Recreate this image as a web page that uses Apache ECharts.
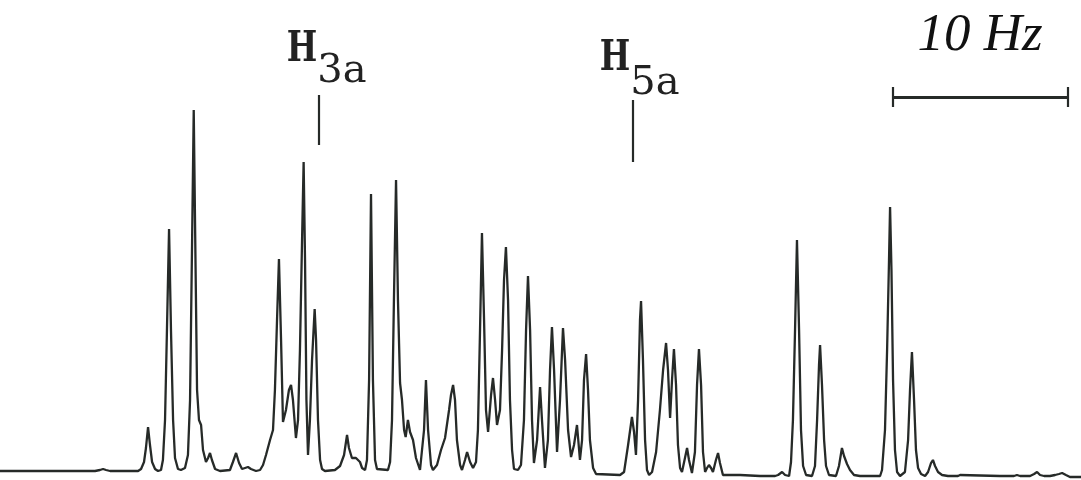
<!DOCTYPE html>
<html>
<head>
<meta charset="utf-8">
<script src="https://cdn.jsdelivr.net/npm/echarts@6/dist/echarts.min.js"></script>
<style>
  html, body { margin: 0; padding: 0; background: #fff; }
  #chart { width: 1081px; height: 480px; }
</style>
</head>
<body>
<div id="chart"></div>
<script>
// spectrum trace: [frequency (Hz from left edge), intensity]
const baseLeft = [
  [0.00,0],[5.43,0],[5.71,1],[5.89,2],[6.06,1],[6.29,0],[7.89,0],[8.06,2],[8.23,9],[8.34,23],[8.46,44],
  [8.57,26],[8.69,9],[8.86,2],[9.03,0],[9.20,1],[9.31,11],[9.43,51],[9.54,141],[9.66,242],[9.77,141],
  [9.89,51],[10.00,13],[10.17,2],[10.34,1],[10.57,3],[10.74,16],[10.86,71],[10.97,221],[11.07,361],
  [11.17,211],[11.26,81],[11.37,51],[11.49,46],[11.60,21],[11.77,9],[11.89,13],[12.00,18],[12.11,11],
  [12.29,2],[12.57,0],[13.14,1],[13.31,9],[13.49,18],[13.66,8],[13.83,2],[14.00,3],[14.17,4],[14.34,2],[14.63,0]
];
const h3aGroup = [
  [14.86,1],[15.03,6],[15.20,16],[15.43,31],[15.60,41],[15.71,81],[15.83,151],[15.94,212],[16.06,131],
  [16.17,49],[16.34,61],[16.51,81],[16.63,86],[16.74,71],[16.91,33],[17.03,51],[17.14,121],[17.26,231],
  [17.35,309],[17.43,211],[17.51,71],[17.60,16],[17.71,51],[17.83,111],[17.98,162],[18.06,131],[18.17,51],
  [18.29,11],[18.40,2],[18.57,0]
];
const midGroup = [
  [19.14,1],[19.43,5],[19.66,16],[19.83,36],[19.94,23],[20.11,13],[20.34,13],[20.57,9],[20.69,3],[20.86,1],
  [20.97,11],[21.09,91],[21.20,277],[21.31,91],[21.43,11],[21.54,2],[22.17,1],[22.29,9],[22.40,51],
  [22.51,171],[22.63,291],[22.74,171],[22.86,88],[22.97,71],[23.09,41],[23.18,34],[23.31,51],[23.43,39],
  [23.60,31],[23.77,13],[24.00,1],[24.11,3],[24.23,41],[24.34,91],[24.46,41],[24.63,6],[24.74,1],[24.97,6],
  [25.20,21],[25.43,33],[25.66,61],[25.77,76],[25.89,86],[26.00,71],[26.11,31],[26.29,6],[26.40,1],
  [26.57,11],[26.69,19],[26.86,9],[27.03,3]
];
const denseGroup = [
  [27.20,9],[27.31,41],[27.43,141],[27.54,238],[27.66,151],[27.77,61],[27.89,39],[28.06,76],[28.17,93],
  [28.29,71],[28.40,46],[28.57,61],[28.69,121],[28.80,191],[28.91,224],[29.03,171],[29.14,71],[29.26,21],
  [29.37,2],[29.60,1],[29.77,6],[29.94,51],[30.06,141],[30.17,195],[30.29,141],[30.40,51],[30.51,8],
  [30.69,31],[30.86,84],[30.97,51],[31.14,3],[31.31,31],[31.43,101],[31.54,144],[31.66,101],[31.83,19],
  [32.00,71],[32.17,143],[32.29,111],[32.46,41],[32.63,14],[32.80,26],[32.97,46],[33.14,11],[33.26,31],
  [33.37,91],[33.49,117],[33.60,81],[33.71,31],[33.89,3],[34.06,-3]
];
const h5aGroup = [
  [35.43,-4],[35.66,-1],[35.89,26],[36.11,54],[36.23,39],[36.34,16],[36.46,71],[36.57,151],[36.63,170],
  [36.74,111],[36.86,31],[36.97,1],[37.09,-4],[37.26,-1],[37.49,19],[37.71,61],[37.89,101],[38.06,128],
  [38.17,101],[38.29,53],[38.40,91],[38.51,122],[38.63,86],[38.74,26],[38.86,3],[38.97,-1],[39.14,13],
  [39.26,23],[39.37,11],[39.54,-2],[39.71,19],[39.83,86],[39.94,122],[40.06,86],[40.17,19],[40.29,-1],
  [40.40,3],[40.51,6],[40.63,3],[40.74,-1],[40.91,11],[41.03,18],[41.14,8],[41.31,-4],[42.29,-4]
];
const baseRight = [
  [43.43,-5],[44.29,-5],[44.46,-4],[44.69,-1],[44.86,-4],[45.09,-5],[45.20,9],[45.31,51],[45.43,141],
  [45.54,231],[45.66,141],[45.77,41],[45.89,5],[46.06,-4],[46.40,-5],[46.57,5],[46.69,51],[46.80,106],
  [46.86,126],[46.97,86],[47.09,31],[47.20,5],[47.37,-4],[47.77,-5],[47.94,5],[48.11,23],[48.23,15],
  [48.40,7],[48.57,1],[48.80,-4],[49.14,-5],[50.29,-5],[50.40,1],[50.57,41],[50.69,121],[50.80,211],
  [50.86,264],[50.94,201],[51.03,91],[51.14,21],[51.26,-1],[51.43,-5],[51.71,-1],[51.89,31],[52.00,81],
  [52.11,119],[52.23,71],[52.34,21],[52.46,3],[52.63,-3],[52.86,-5],[53.03,-1],[53.20,8],[53.31,11],
  [53.43,5],[53.60,-1],[53.83,-4],[54.17,-5],[54.74,-5],[54.86,-4],[54.97,-5],[57.14,-5],[57.94,-5],
  [58.11,-4],[58.29,-5],[58.86,-5],[59.09,-3],[59.26,-1],[59.43,-4],[59.66,-5],[60.00,-5],[60.29,-4],
  [60.51,-3],[60.69,-2],[60.91,-4],[61.14,-6],[61.77,-6]
];

// assignment ticks [Hz, lower, upper] and the 10 Hz scale bar
const h3aTick = [18.19, 326, 376];
const h5aTick = [36.15, 309, 371];
const scaleBar = [51, 61, 374];

const trace = [].concat(baseLeft, h3aGroup, midGroup, denseGroup, h5aGroup, baseRight);

let chart = echarts.init(document.getElementById("chart"));
const ink = "#262a28";

function vseg(x, y0, y1) {
  return [{ coord: [x, y0] }, { coord: [x, y1] }];
}

let option = {
  animation: false,
  backgroundColor: "#fff",
  grid: { left: 0, right: 0, top: 0, bottom: 0 },
  xAxis: { type: "value", min: 0, max: 61.77, show: false },
  yAxis: { type: "value", min: -9, max: 471, show: false },
  series: [{
    type: "line",
    data: trace,
    showSymbol: false,
    lineStyle: { color: ink, width: 2.3 },
    markLine: {
      silent: true,
      symbol: "none",
      label: { show: false },
      lineStyle: { color: ink, width: 2.2, type: "solid" },
      data: [
        vseg(h3aTick[0], h3aTick[1], h3aTick[2]),
        vseg(h5aTick[0], h5aTick[1], h5aTick[2]),
        [{ coord: [scaleBar[0], scaleBar[2]], lineStyle: { width: 3 } }, { coord: [scaleBar[1], scaleBar[2]] }],
        vseg(scaleBar[0], scaleBar[2] - 10, scaleBar[2] + 10),
        vseg(scaleBar[1], scaleBar[2] - 10, scaleBar[2] + 10)
      ]
    }
  }],
  graphic: [
    { type: "text", x: 302, y: 50, scaleX: 0.75, style: { text: "H", font: "600 43px 'DejaVu Serif'", fill: "#222", align: "center", verticalAlign: "middle" } },
    { type: "text", x: 342, y: 72, style: { text: "3a", font: "40px 'DejaVu Serif'", fill: "#222", align: "center", verticalAlign: "middle" } },
    { type: "text", x: 615, y: 59, scaleX: 0.75, style: { text: "H", font: "600 43px 'DejaVu Serif'", fill: "#222", align: "center", verticalAlign: "middle" } },
    { type: "text", x: 655, y: 84, style: { text: "5a", font: "40px 'DejaVu Serif'", fill: "#222", align: "center", verticalAlign: "middle" } },
    { type: "text", x: 980, y: 36, style: { text: "10 Hz", font: "italic 53px 'Liberation Serif'", fill: "#111", align: "center", verticalAlign: "middle" } }
  ]
};

chart.setOption(option);
</script>
</body>
</html>
